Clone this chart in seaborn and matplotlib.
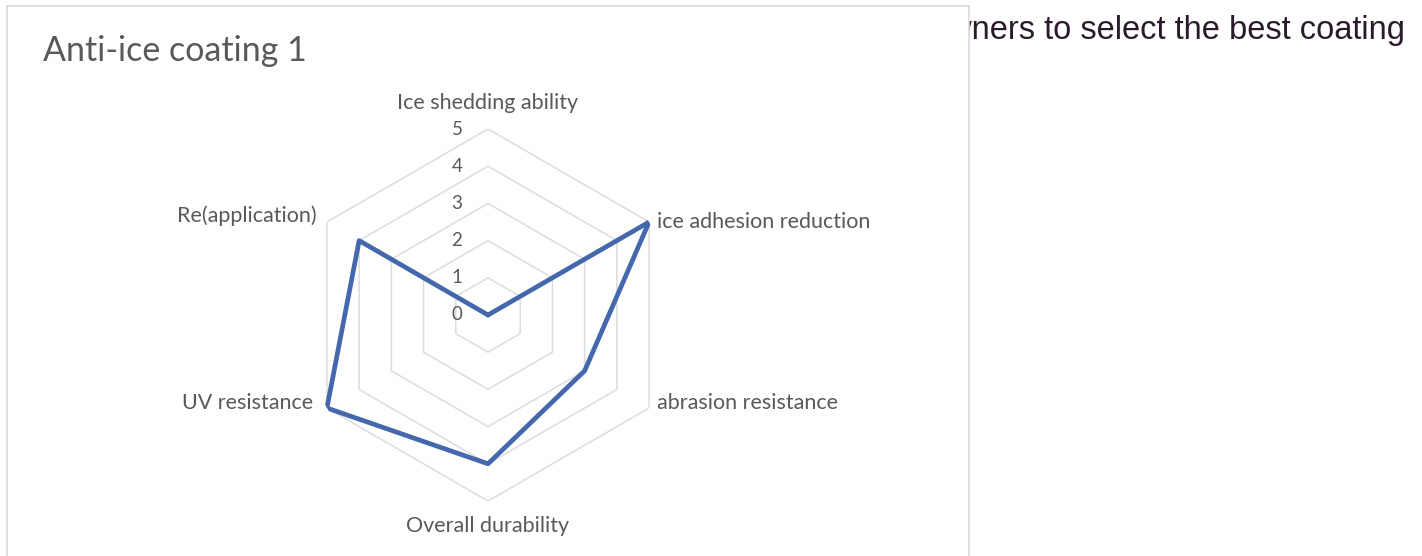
"""
Radar chart of anti-ice coating scores (Excel-style look).
"""

import numpy as np
import matplotlib
matplotlib.use('Agg')
import matplotlib.pyplot as plt
import seaborn as sns
import pandas as pd

# data
categories = ['Ice shedding ability', 'ice adhesion reduction', 'abrasion resistance',
              'Overall durability', 'UV resistance', 'Re(application)']
scores = [0, 5, 3, 4, 5, 4]
levels = [0, 1, 2, 3, 4, 5]
chart_title = 'Anti-ice coating 1'
side_text = 'owners to select the best coating'

sns.set_theme(style='white')
plt.rcParams['font.family'] = ['Lato', 'DejaVu Sans']

W, H = 1422, 556
fig = plt.figure(figsize=(W / 100, H / 100), dpi=100)
fig.patch.set_facecolor('white')

# text of the page behind the chart (cut by the chart frame)
fig.text(1405 / W, 1 - 39 / H, side_text, ha='right', va='baseline',
         fontsize=23.5, color='#2b1a2c', family=['Liberation Sans'], zorder=0)

# chart frame
ax_bg = fig.add_axes([7 / W, -0.05, (969 - 7) / W, 1.05 - 6 / H])
ax_bg.set_xticks([])
ax_bg.set_yticks([])
ax_bg.set_facecolor('white')
for s in ax_bg.spines.values():
    s.set_color('#d9d9d9')
    s.set_linewidth(1.2)
ax_bg.set_zorder(1)
ax_bg.text(36 / (969 - 7), 1 - (61 - 6) / (556 * 1.05 - 6), chart_title,
           transform=ax_bg.transAxes, ha='left', va='baseline',
           fontsize=24.5, color='#595959')

# radar axes
cx, cy, R = 488, 315, 186
ax = fig.add_axes([(cx - R) / W, (H - cy - R) / H, 2 * R / W, 2 * R / H],
                  projection='polar')
ax.set_zorder(2)
ax.patch.set_alpha(0)
ax.set_theta_zero_location('N')
ax.set_theta_direction(-1)
ax.set_ylim(0, 5)
ax.grid(False)
ax.spines['polar'].set_visible(False)
ax.set_xticks([])
ax.set_yticks([])

n = len(categories)
angles = np.linspace(0, 2 * np.pi, n, endpoint=False)
closed = np.append(angles, angles[0])

# hexagon rings
for lv in levels[1:]:
    ax.plot(closed, [lv] * (n + 1), color='#dcdcdc', lw=1.1, zorder=1)

df = pd.DataFrame({'angle': closed, 'score': scores + [scores[0]]})
sns.lineplot(data=df, x='angle', y='score', sort=False, estimator=None, ax=ax,
             color='#4468ab', lw=3.4, zorder=3)
ax.set_xlabel('')
ax.set_ylabel('')

# value labels on the vertical axis
for lv in levels:
    ax.annotate(str(lv), (0, lv), xytext=(-31, 0), textcoords='offset pixels',
                ha='center', va='center', fontsize=13.5, color='#595959')

# category labels
offsets = [((0, 26), 'center'), ((8, 0), 'left'), ((8, 5), 'left'),
           ((0, -25), 'center'), ((-14, 5), 'right'), ((-10, 6), 'right')]
for ang, lab, (off, ha) in zip(angles, categories, offsets):
    ax.annotate(lab, (ang, 5), xytext=off, textcoords='offset pixels',
                ha=ha, va='center', fontsize=15.5, color='#595959',
                annotation_clip=False)

plt.savefig('out.png', dpi=100)
